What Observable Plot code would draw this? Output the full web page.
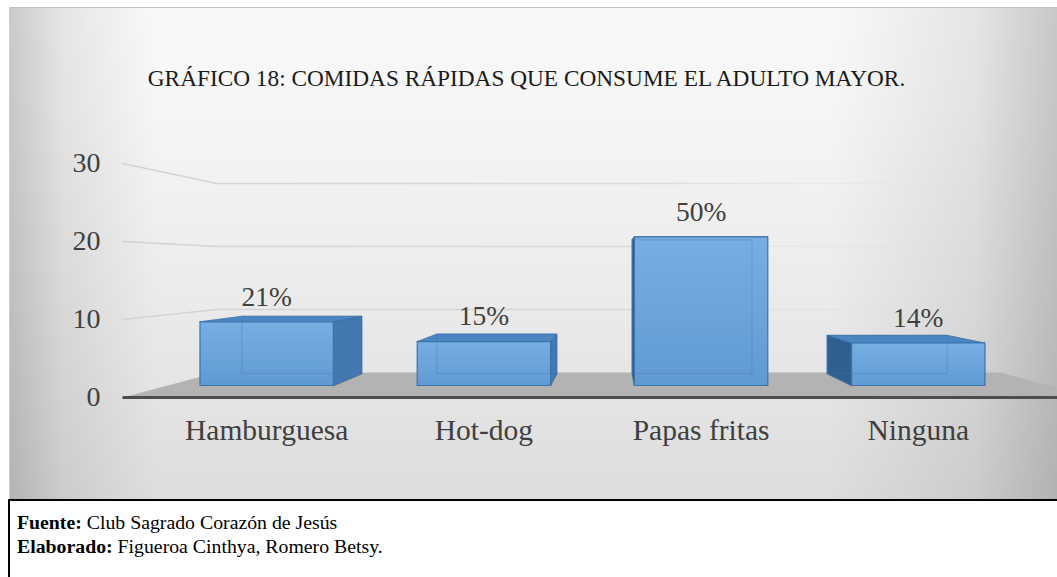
<!DOCTYPE html>
<html>
<head>
<meta charset="utf-8">
<script src="https://cdn.jsdelivr.net/npm/d3@7"></script>
<script src="https://cdn.jsdelivr.net/npm/@observablehq/plot@0.6"></script>
<style>
  html, body { margin: 0; padding: 0; background: #ffffff; }
  body { width: 1057px; height: 577px; overflow: hidden; position: relative; font-family: "Liberation Serif", serif; }
  #chartbg {
    position: absolute; left: 9px; top: 7px; width: 1048px; height: 492px;
    border-top: 1px solid #c4c4c4; border-left: 1px solid #cfcfcf;
    background:
      linear-gradient(to right, rgba(0,0,0,0.19) 0%, rgba(0,0,0,0.08) 5%, rgba(0,0,0,0) 14%, rgba(0,0,0,0) 78%, rgba(0,0,0,0.08) 92%, rgba(0,0,0,0.2) 100%),
      linear-gradient(to bottom, #f9f9f9 0%, #f6f6f6 20%, #ececec 55%, #dddddd 100%);
  }
  #title {
    position: absolute; left: 0; top: 67px; width: 1053px; text-align: center;
    font-family: "Liberation Serif", serif;
    font-size: 23.3px; line-height: 23px; color: #1a1a1a; white-space: nowrap;
  }
  #plot { position: absolute; left: 0; top: 0; }
  #caption {
    position: absolute; left: 8px; top: 499px; width: 1049px; height: 78px;
    border-top: 2px solid #000; border-left: 2px solid #000; box-sizing: border-box;
    font-family: "Liberation Serif", serif;
    padding: 9px 0 0 7px; font-size: 19.8px; line-height: 24px; color: #000;
  }
</style>
</head>
<body>
<div id="chartbg"></div>
<div id="title">GRÁFICO 18: COMIDAS RÁPIDAS QUE CONSUME EL ADULTO MAYOR.</div>
<div id="plot"></div>
<div id="caption"><b>Fuente:</b> Club Sagrado Corazón de Jesús<br><b>Elaborado:</b> Figueroa Cinthya, Romero Betsy.</div>
<script>
// ---- data ----
const categories = ["Hamburguesa", "Hot-dog", "Papas fritas", "Ninguna"];
const counts = [9, 6.2, 21, 6];
const percentLabels = ["21%", "15%", "50%", "14%"];
const yTicks = [0, 10, 20, 30];
const gridValues = [10, 20, 30];

// ---- layout / 3D projection (front plane = the scales) ----
const W = 1057, H = 500;
const FONT = "Liberation Serif";
const X0 = 231, DXP = 239.3, Y0 = 397, DYP = 7.8;
const xDomain = [(0 - X0) / DXP, (W - X0) / DXP];
const yDomain = [(Y0 - H) / DYP, Y0 / DYP];
const VX = (612 - X0) / DXP, VY = (Y0 - 267) / DYP;   // vanishing point (data units)
const S_BACK = 0.8077, BAR_F = 0.9077, BAR_B = 0.815, HALF = 0.307;
const FLOOR_L = -0.4555, FLOOR_R = categories.length - 0.402;
const P = (i, v, s) => ({x: VX + (i - VX) * s, y: VY + (v - VY) * s});

const bars = categories.map((c, i) => ({c, i, v: counts[i], pct: percentLabels[i]}));

const poly = (pts, opts) => Plot.line(pts, {x: "x", y: "y", curve: "linear-closed", ...opts});

const marks = [];
marks.push(() => {
  const defs = d3.create("svg:defs");
  const g = defs.append("linearGradient").attr("id", "barFront").attr("x1", 0).attr("y1", 0).attr("x2", 0).attr("y2", 1);
  g.append("stop").attr("offset", "0%").attr("stop-color", "#77afe3");
  g.append("stop").attr("offset", "100%").attr("stop-color", "#6199d3");
  const gg = defs.append("linearGradient").attr("id", "gridFade").attr("gradientUnits", "userSpaceOnUse")
    .attr("x1", 0).attr("y1", 0).attr("x2", W).attr("y2", 0);
  gg.append("stop").attr("offset", "10%").attr("stop-color", "#cfcfcf").attr("stop-opacity", 0.9);
  gg.append("stop").attr("offset", "60%").attr("stop-color", "#d2d2d2").attr("stop-opacity", 0.7);
  gg.append("stop").attr("offset", "90%").attr("stop-color", "#d8d8d8").attr("stop-opacity", 0.0);
  return defs.node();
});

// gridlines (left wall + back wall)
for (const g of gridValues) {
  marks.push(Plot.line([P(FLOOR_L, g, 1), P(FLOOR_L, g, S_BACK), P(FLOOR_R, g, S_BACK)],
    {x: "x", y: "y", stroke: "url(#gridFade)", strokeWidth: 1.6}));
}

// floor
marks.push(poly([P(FLOOR_L, 0, 1), P(FLOOR_R, 0, 1), P(FLOOR_R, 0, S_BACK), P(FLOOR_L, 0, S_BACK)],
  {fill: "#b3b3b3", stroke: "none"}));
marks.push(Plot.line([P(FLOOR_L, 0, 1), P(FLOOR_R, 0, 1)], {x: "x", y: "y", stroke: "#4d4d4d", strokeWidth: 3, strokeLinecap: "butt"}));

// bars
for (const b of bars) {
  const L = b.i - HALF, R = b.i + HALF, v = b.v;
  const sideX = b.i < VX ? R : L;
  const sideFill = b.i < VX ? "#4378b0" : "#2f6090";
  marks.push(poly([P(sideX, 0, BAR_F), P(sideX, v, BAR_F), P(sideX, v, BAR_B), P(sideX, 0, BAR_B)],
    {fill: sideFill, stroke: "#2f5f8f", strokeWidth: 0.8}));
  marks.push(poly([P(L, v, BAR_F), P(R, v, BAR_F), P(R, v, BAR_B), P(L, v, BAR_B)],
    {fill: "#4b86c2", stroke: "#3a6fa6", strokeWidth: 0.8}));
  marks.push(poly([P(L, 0, BAR_F), P(R, 0, BAR_F), P(R, v, BAR_F), P(L, v, BAR_F)],
    {fill: "url(#barFront)", stroke: "none"}));
  marks.push(poly([P(L, 0, BAR_B), P(R, 0, BAR_B), P(R, v, BAR_B), P(L, v, BAR_B)],
    {fill: "none", stroke: "#3f76ae", strokeWidth: 1, strokeOpacity: 0.35}));
  marks.push(poly([P(L, 0, BAR_F), P(R, 0, BAR_F), P(R, v, BAR_F), P(L, v, BAR_F)],
    {fill: "none", stroke: "#3d73ab", strokeWidth: 1.2}));
}

// percentage labels
marks.push(Plot.text(bars, {
  x: d => P(d.i, d.v, BAR_F).x, y: d => P(d.i, d.v, BAR_F).y, text: "pct",
  dy: -25, lineAnchor: "middle", fontSize: 27.5, fontFamily: FONT, fill: "#404040"
}));
// category labels
marks.push(Plot.text(bars, {
  x: d => P(d.i, 0, BAR_F).x, text: "c", frameAnchor: "bottom",
  dy: -70, lineAnchor: "middle", fontSize: 29.5, fontFamily: FONT, fill: "#404040"
}));
// y tick labels
marks.push(Plot.text(yTicks, {
  y: d => d, text: d => String(d), frameAnchor: "left", dx: 100,
  textAnchor: "end", lineAnchor: "middle", fontSize: 28, fontFamily: FONT, fill: "#404040"
}));

const chart = Plot.plot({
  width: W, height: H, margin: 0,
  x: {type: "linear", domain: xDomain, axis: null},
  y: {type: "linear", domain: yDomain, axis: null},
  style: {background: "transparent", fontFamily: FONT, overflow: "visible"},
  marks
});
document.getElementById("plot").appendChild(chart);
</script>
</body>
</html>
